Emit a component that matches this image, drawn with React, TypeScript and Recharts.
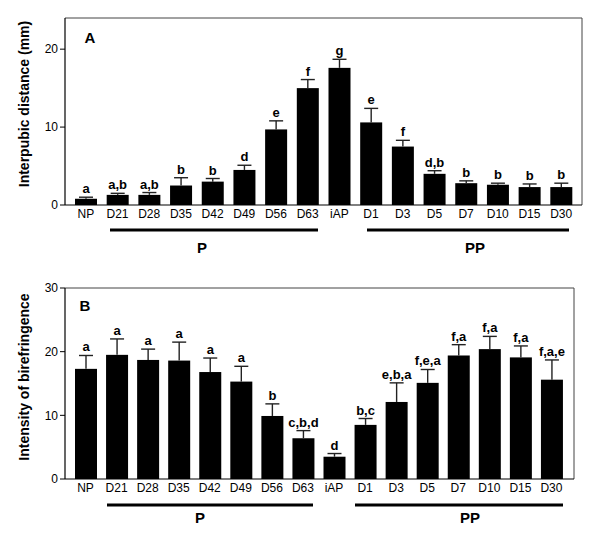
import { BarChart, Bar, XAxis, YAxis, CartesianGrid } from "recharts";

const categories = ["NP", "D21", "D28", "D35", "D42", "D49", "D56", "D63", "iAP", "D1", "D3", "D5", "D7", "D10", "D15", "D30"];

// panel A: interpubic distance (mm)
const distanceMean = [0.8, 1.3, 1.3, 2.5, 3.0, 4.5, 9.7, 15.0, 17.6, 10.6, 7.5, 4.0, 2.8, 2.6, 2.3, 2.3];
const distanceErr = [0.2, 0.2, 0.3, 1.0, 0.4, 0.6, 1.1, 1.1, 1.1, 1.8, 0.8, 0.4, 0.3, 0.2, 0.4, 0.5];
const distanceSig = ["a", "a,b", "a,b", "b", "b", "d", "e", "f", "g", "e", "f", "d,b", "b", "b", "b", "b"];
const distanceTicks = [0, 10, 20];

// panel B: intensity of birefringence
const birefMean = [17.3, 19.5, 18.7, 18.6, 16.8, 15.3, 9.9, 6.4, 3.5, 8.5, 12.1, 15.1, 19.4, 20.4, 19.1, 15.6];
const birefErr = [2.1, 2.5, 1.7, 2.9, 2.2, 2.4, 1.9, 1.2, 0.5, 1.0, 3.0, 2.1, 1.7, 2.0, 1.8, 3.1];
const birefSig = ["a", "a", "a", "a", "a", "a", "b", "c,b,d", "d", "b,c", "e,b,a", "f,e,a", "f,a", "f,a", "f,a", "f,a,e"];
const birefTicks = [0, 10, 20, 30];

const FONT = "'Liberation Sans', Arial, Helvetica, sans-serif";

const toRows = (mean: number[], err: number[], sig: string[]) =>
  categories.map((cat, i) => ({ cat, mean: mean[i], err: err[i], sig: sig[i] }));

const BarWithError = (props: any) => {
  const { x, y, width, height, payload } = props;
  const perUnit = payload.mean ? height / payload.mean : 0;
  const top = y - payload.err * perUnit;
  const cx = x + width / 2;
  return (
    <g>
      <rect x={x} y={y} width={width} height={height} fill="#000" />
      <line x1={cx} x2={cx} y1={y} y2={top} stroke="#222" strokeWidth={1.4} />
      <line x1={cx - 7} x2={cx + 7} y1={top} y2={top} stroke="#222" strokeWidth={1.4} />
      <text x={cx} y={top - 4} textAnchor="middle" fontWeight="bold" fontSize={13} fontFamily={FONT} fill="#000">
        {payload.sig}
      </text>
    </g>
  );
};

// frame: only the top edge and right edge of the plot area
const topEdge = ({ offset }: any) => [offset.top];
const rightEdge = ({ offset }: any) => [offset.left + offset.width];

interface PanelProps {
  rows: { cat: string; mean: number; err: number; sig: string }[];
  max: number;
  ticks: number[];
  height: number;
  right: number;
  xHeight: number;
  pad: { left: number; right: number };
}

const Panel = ({ rows, max, ticks, height, right, xHeight, pad }: PanelProps) => (
  <BarChart width={600} height={height} data={rows} margin={{ top: 18, right, left: 0, bottom: 0 }} barSize={22}>
    <CartesianGrid
      stroke="#444"
      strokeWidth={1}
      horizontalCoordinatesGenerator={topEdge}
      verticalCoordinatesGenerator={rightEdge}
    />
    <XAxis
      dataKey="cat"
      interval={0}
      tickLine={false}
      tickSize={0}
      tickMargin={4}
      height={xHeight}
      padding={pad}
      axisLine={{ stroke: "#000", strokeWidth: 1.2 }}
      tick={{ fill: "#000", fontSize: 12, fontFamily: FONT }}
    />
    <YAxis
      width={65}
      domain={[0, max]}
      ticks={ticks}
      tickSize={5}
      tickMargin={2}
      axisLine={{ stroke: "#000", strokeWidth: 1.2 }}
      tickLine={{ stroke: "#000" }}
      tick={{ fill: "#000", fontSize: 12, fontFamily: FONT }}
    />
    <Bar dataKey="mean" shape={BarWithError} isAnimationActive={false} />
  </BarChart>
);

const App = () => {
  const txt = { fontFamily: FONT, fontWeight: "bold" as const, fill: "#000" };
  return (
    <div style={{ position: "absolute", left: 0, top: 0, width: 600, height: 535, background: "#fff" }}>
      <div style={{ position: "absolute", left: 0, top: 0 }}>
        <Panel rows={toRows(distanceMean, distanceErr, distanceSig)} max={24} ticks={distanceTicks} height={262} right={18} xHeight={57} pad={{ left: 5, right: 5 }} />
      </div>
      <div style={{ position: "absolute", left: 0, top: 270 }}>
        <Panel rows={toRows(birefMean, birefErr, birefSig)} max={30} ticks={birefTicks} height={265} right={26} xHeight={56} pad={{ left: 5, right: 7 }} />
      </div>
      <svg width={600} height={535} style={{ position: "absolute", left: 0, top: 0, pointerEvents: "none" }}>
        {/* panel A annotations */}
        <text x={90} y={37} {...txt} fontSize={15} textAnchor="middle" dominantBaseline="central">A</text>
        <text transform="translate(24,104) rotate(-90)" {...txt} fontSize={14} textAnchor="middle" dominantBaseline="central">
          Interpubic distance (mm)
        </text>
        <line x1={110} x2={318} y1={230} y2={230} stroke="#000" strokeWidth={3} />
        <line x1={367} x2={569} y1={230} y2={230} stroke="#000" strokeWidth={3} />
        <text x={202} y={247} {...txt} fontSize={15} textAnchor="middle" dominantBaseline="central">P</text>
        <text x={475} y={247} {...txt} fontSize={15} textAnchor="middle" dominantBaseline="central">PP</text>
        {/* panel B annotations */}
        <text x={85} y={305} {...txt} fontSize={15} textAnchor="middle" dominantBaseline="central">B</text>
        <text transform="translate(24,377) rotate(-90)" {...txt} fontSize={14} textAnchor="middle" dominantBaseline="central">
          Intensity of birefringence
        </text>
        <line x1={107} x2={313} y1={505} y2={505} stroke="#000" strokeWidth={3} />
        <line x1={355} x2={563} y1={505} y2={505} stroke="#000" strokeWidth={3} />
        <text x={200} y={517} {...txt} fontSize={15} textAnchor="middle" dominantBaseline="central">P</text>
        <text x={470} y={517} {...txt} fontSize={15} textAnchor="middle" dominantBaseline="central">PP</text>
      </svg>
    </div>
  );
};

export default App;
